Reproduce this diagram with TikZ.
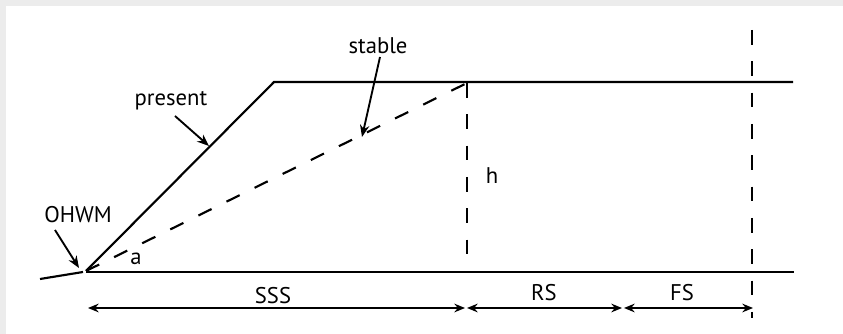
\documentclass[tikz,border=0pt]{standalone}
\usepackage{fontspec}
\setmainfont{PT Sans}
\usetikzlibrary{arrows.meta}
\definecolor{framegrey}{HTML}{ECECEC}
\begin{document}
\begin{tikzpicture}[x=0.75pt,y=-0.75pt,
  ln/.style={line width=1.6pt},
  dsh/.style={line width=1.6pt,dash pattern=on 11pt off 12.5pt},
  dim/.style={line width=1.4pt,{Stealth[length=8pt,width=6.5pt]}-{Stealth[length=8pt,width=6.5pt]}},
  callout/.style={line width=1.4pt,-{Stealth[length=9pt,width=7pt]}},
  lbl/.style={font=\fontsize{17}{20}\selectfont,inner sep=0pt}]
\fill[white] (0,0) rectangle (843,334);
\fill[framegrey] (0,0) rectangle (843,6);
\fill[framegrey] (0,0) rectangle (6,334);
\useasboundingbox (0,0) rectangle (843,334);
% coordinates
\coordinate (toe) at (86,271);
\coordinate (crest) at (274,82);
\coordinate (topR) at (793,82);
\coordinate (botR) at (794,272);
\coordinate (stubL) at (40,279);
\coordinate (stubR) at (83,272);
\coordinate (stab) at (467,83);
\coordinate (stabB) at (467,262);
\coordinate (fsT) at (752,30);
\coordinate (fsB) at (752,318);
% ground
\draw[ln] (stubL) -- (stubR);
\draw[ln] (toe) -- (crest) -- (topR);
\draw[ln] (86,272) -- (botR);
% stable slope
\draw[dsh] (toe) -- (stab);
\draw[dsh] (stab) -- (stabB);
\draw[dsh] (fsT) -- (fsB);
% labels
\node[lbl] (stable) at (378,46) {stable};
\node[lbl] (present) at (171,101) {present};
\node[lbl] (ohwm) at (78,215) {OHWM};
\node[lbl] (a) at (136,259) {a};
\node[lbl] (h) at (492,176) {h};
\node[lbl] (sss) at (273,296) {SSS};
\node[lbl] (rs) at (544,293) {RS};
\node[lbl] (fs) at (682,293) {FS};
% callouts
\coordinate (stableTip) at (362,137);
\coordinate (presentTip) at (209,146);
\coordinate (ohwmTip) at (79,268);
\draw[callout] (380,57) -- (stableTip);
\draw[callout] (175,116) -- (presentTip);
\draw[callout] (55,230) -- (ohwmTip);
% dimensions
\coordinate (d0) at (88,308);
\coordinate (d1) at (465,308);
\coordinate (d2) at (467,308);
\coordinate (d3) at (622,308);
\coordinate (d4) at (624,308);
\coordinate (d5) at (753,308);
\draw[dim] (d0) -- (d1);
\draw[dim] (d2) -- (d3);
\draw[dim] (d4) -- (d5);
\end{tikzpicture}
\end{document}
